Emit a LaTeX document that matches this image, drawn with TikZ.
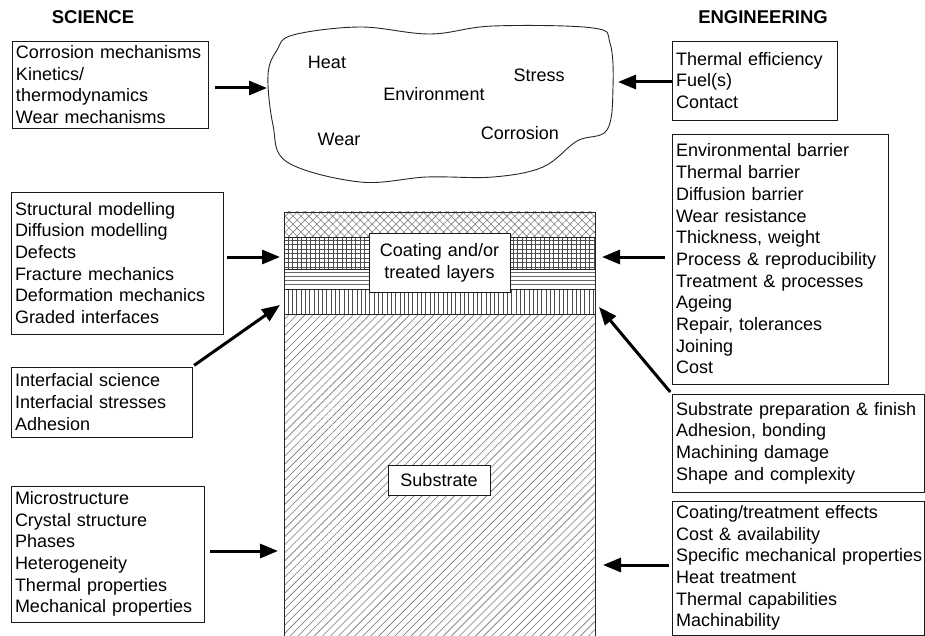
\documentclass[tikz,border=0pt]{standalone}
\usepackage{fontspec}
\setmainfont{Liberation Sans}
\usetikzlibrary{patterns.meta,arrows.meta}
\begin{document}
\begin{tikzpicture}[x=1pt,y=-1pt,
  txt/.style={font=\fontsize{18}{21.7}\selectfont},
  box/.style={txt, draw=black!90, line width=0.9pt, align=left, inner xsep=4pt, inner ysep=0pt},
  lbl/.style={txt, inner sep=0pt},
  head/.style={font=\bfseries\fontsize{18.5}{22}\selectfont, inner sep=0pt},
  arr/.style={line width=3pt, -{Triangle[length=18pt,width=14pt]}},
  edge/.style={draw=black!85, line width=0.9pt},
  hline/.style={draw=black!60, line width=0.9pt}]
\useasboundingbox (0,0) rectangle (925,636);

% ---- layered column ----
\fill[pattern={Hatch[angle=45,distance=5.6pt,line width=0.6pt]}, pattern color=black!50] (284,212) rectangle (595,237);
\fill[pattern={Hatch[angle=0,distance=4.5pt,line width=0.6pt]}, pattern color=black!70] (284,237) rectangle (595,269);
\foreach \yy in {272,276,280,284} \draw[hline] (284,\yy) -- (595,\yy);
\fill[pattern={Lines[angle=90,distance=4.3pt,line width=0.8pt]}, pattern color=black!70] (284,289) rectangle (595,314);
\fill[pattern={Lines[angle=45,distance=5.7pt,line width=0.6pt]}, pattern color=black!55] (284,314) rectangle (595,636);
\draw[edge] (284,636) -- (284,212) -- (595,212) -- (595,636);
\foreach \yy in {237,269,289,314} \draw[edge] (284,\yy) -- (595,\yy);

\node[box, fill=white, align=center, text width=133pt, minimum height=59pt] (coat) at (439.5,262.5) {Coating and/or\\treated layers};
\node[box, fill=white, align=center, text width=94pt, minimum height=30pt] (sub) at (439,480) {Substrate};

% ---- headings ----
\node[head] (sci) at (93,17) {SCIENCE};
\node[head] (eng) at (763,17) {ENGINEERING};

% ---- cloud ----
\draw[black!85, line width=0.9pt] plot[smooth cycle, tension=0.6] coordinates {
  (293,35) (360,27) (430,34) (493,26) (593,28) (610,43) (613,87) (607,130)
  (577,141) (543,167) (493,177) (427,177) (360,182) (287,162) (273,125)
  (268,75) (277,50)};
\node[lbl] (heat) at (327,62) {Heat};
\node[lbl] (stress) at (539,75) {Stress};
\node[lbl] (env) at (434,94) {Environment};
\node[lbl] (wear) at (339,139) {Wear};
\node[lbl] (corr) at (520,133) {Corrosion};

% ---- science boxes ----
\node[box, text width=188pt, minimum height=87pt] (L1) at (110,84.5)
  {\mbox{Corrosion mechanisms}\\Kinetics/\\thermodynamics\\Wear mechanisms};
\node[box, text width=204pt, minimum height=142pt] (L2) at (117,263)
  {Structural modelling\\Diffusion modelling\\Defects\\Fracture mechanics\\\mbox{Deformation mechanics}\\Graded interfaces};
\node[box, text width=173pt, minimum height=70pt] (L3) at (101.5,402)
  {Interfacial science\\\mbox{Interfacial stresses}\\Adhesion};
\node[box, text width=185pt, minimum height=136pt] (L4) at (107.5,554)
  {Microstructure\\Crystal structure\\Phases\\Heterogeneity\\Thermal properties\\\mbox{Mechanical properties}};

% ---- engineering boxes ----
\node[box, text width=157pt, minimum height=79pt] (R1) at (754.5,80.5)
  {\mbox{Thermal efficiency}\\Fuel(s)\\Contact};
\node[box, text width=208pt, minimum height=250pt] (R2) at (780,259)
  {Environmental barrier\\Thermal barrier\\Diffusion barrier\\Wear resistance\\Thickness, weight\\\mbox{Process \& reproducibility}\\Treatment \& processes\\Ageing\\Repair, tolerances\\Joining\\Cost};
\node[box, text width=244pt, minimum height=98pt] (R3) at (798,443)
  {\mbox{Substrate preparation \& finish}\\Adhesion, bonding\\Machining damage\\Shape and complexity};
\node[box, text width=244pt, minimum height=134pt] (R4) at (798,568)
  {Coating/treatment effects\\Cost \& availability\\\mbox{Specific mechanical properties}\\Heat treatment\\Thermal capabilities\\Machinability};

% ---- arrow targets ----
\coordinate (cloudL) at (267,88);
\coordinate (cloudR) at (618,82);
\coordinate (colL1) at (280,257);
\coordinate (colL2) at (280,305);
\coordinate (colL3) at (278,551);
\coordinate (colR1) at (602,257);
\coordinate (colR2) at (599,307);
\coordinate (colR3) at (603,565);

% ---- arrows ----
\draw[arr, shorten <=7pt] (L1.east |- cloudL) -- (cloudL);
\draw[arr] (R1.west |- cloudR) -- (cloudR);
\draw[arr, shorten <=4pt] (L2.east |- colL1) -- (colL1);
\draw[arr, shorten <=2pt] (L3.north east) -- (colL2);
\draw[arr, shorten <=6pt] (L4.east |- colL3) -- (colL3);
\draw[arr, shorten <=7pt] (R2.west |- colR1) -- (colR1);
\draw[arr, shorten <=2pt] (R3.north west) -- (colR2);
\draw[arr, shorten <=3pt] (R4.west |- colR3) -- (colR3);
\end{tikzpicture}
\end{document}
